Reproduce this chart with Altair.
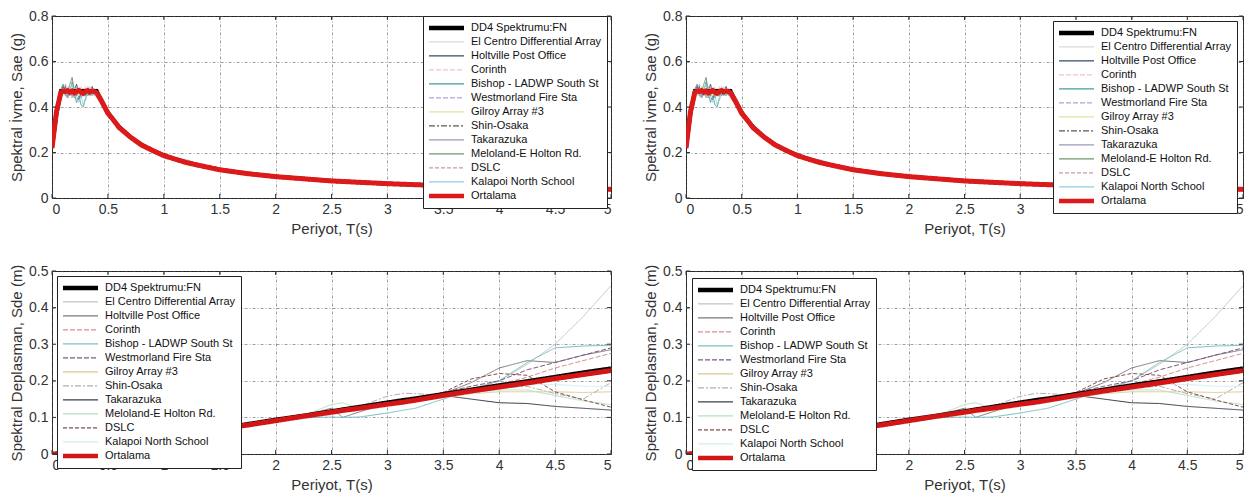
import altair as alt
import pandas as pd

SERIES = ["DD4 Spektrumu:FN", "El Centro Differential Array", "Holtville Post Office",
          "Corinth", "Bishop - LADWP South St", "Westmorland Fire Sta", "Gilroy Array #3",
          "Shin-Osaka", "Takarazuka", "Meloland-E Holton Rd.", "DSLC",
          "Kalapoi North School", "Ortalama"]

X_TICKS = [0, 0.5, 1, 1.5, 2, 2.5, 3, 3.5, 4, 4.5, 5]
SA_TICKS = [0, 0.2, 0.4, 0.6, 0.8]
SD_TICKS = [0, 0.1, 0.2, 0.3, 0.4, 0.5]

# ---------------- spectral acceleration (top row) ----------------
T_SA = [0, 0.04, 0.08, 0.1, 0.12, 0.14, 0.16, 0.18, 0.2, 0.22,
        0.24, 0.26, 0.28, 0.3, 0.32, 0.34, 0.36, 0.38, 0.4, 0.45,
        0.5, 0.55, 0.6, 0.7, 0.8, 0.9, 1.0, 1.1, 1.2, 1.3,
        1.5, 1.75, 2.0, 2.5, 3.0, 3.5, 4.0, 4.5, 5.0]

SA_DD4 = [0.22, 0.37, 0.47, 0.47, 0.47, 0.47, 0.47, 0.47, 0.47, 0.47,
          0.47, 0.47, 0.47, 0.47, 0.47, 0.47, 0.47, 0.47, 0.47, 0.418,
          0.376, 0.342, 0.313, 0.269, 0.235, 0.209, 0.188, 0.171, 0.157, 0.145,
          0.125, 0.107, 0.094, 0.075, 0.063, 0.054, 0.047, 0.042, 0.038]
SA_ELCENTRO = [0.22, 0.37, 0.46, 0.48, 0.45, 0.47, 0.49, 0.46, 0.44, 0.48,
               0.47, 0.45, 0.47, 0.49, 0.46, 0.47, 0.45, 0.48, 0.46, 0.41,
               0.38, 0.35, 0.31, 0.27, 0.24, 0.21, 0.19, 0.17, 0.16, 0.145,
               0.125, 0.107, 0.095, 0.075, 0.063, 0.054, 0.047, 0.042, 0.038]
SA_HOLTVILLE = [0.22, 0.38, 0.47, 0.46, 0.49, 0.45, 0.47, 0.44, 0.47, 0.50,
                0.46, 0.44, 0.46, 0.48, 0.45, 0.47, 0.49, 0.46, 0.47, 0.43,
                0.37, 0.34, 0.32, 0.26, 0.235, 0.205, 0.19, 0.172, 0.155, 0.146,
                0.124, 0.106, 0.093, 0.076, 0.064, 0.053, 0.047, 0.042, 0.038]
SA_CORINTH = [0.22, 0.36, 0.47, 0.47, 0.46, 0.48, 0.45, 0.47, 0.49, 0.46,
              0.44, 0.48, 0.47, 0.45, 0.47, 0.48, 0.46, 0.45, 0.47, 0.42,
              0.375, 0.35, 0.305, 0.275, 0.23, 0.212, 0.185, 0.17, 0.16, 0.143,
              0.126, 0.11, 0.094, 0.074, 0.062, 0.055, 0.048, 0.041, 0.038]
SA_BISHOP = [0.22, 0.37, 0.48, 0.50, 0.46, 0.44, 0.47, 0.51, 0.46, 0.42,
             0.45, 0.41, 0.40, 0.44, 0.47, 0.45, 0.48, 0.47, 0.45, 0.41,
             0.36, 0.33, 0.32, 0.26, 0.24, 0.20, 0.19, 0.165, 0.155, 0.148,
             0.122, 0.108, 0.094, 0.076, 0.063, 0.054, 0.047, 0.042, 0.038]
SA_WESTMORLAND = [0.22, 0.38, 0.46, 0.47, 0.50, 0.48, 0.45, 0.47, 0.46, 0.49,
                  0.47, 0.44, 0.46, 0.47, 0.49, 0.46, 0.47, 0.45, 0.47, 0.42,
                  0.38, 0.34, 0.31, 0.27, 0.235, 0.21, 0.188, 0.17, 0.158, 0.145,
                  0.125, 0.107, 0.094, 0.075, 0.063, 0.054, 0.047, 0.042, 0.038]
SA_GILROY = [0.22, 0.37, 0.47, 0.45, 0.47, 0.49, 0.46, 0.44, 0.48, 0.47,
             0.45, 0.49, 0.46, 0.44, 0.46, 0.49, 0.47, 0.46, 0.44, 0.41,
             0.37, 0.345, 0.30, 0.27, 0.23, 0.215, 0.185, 0.175, 0.16, 0.144,
             0.125, 0.112, 0.095, 0.073, 0.064, 0.054, 0.047, 0.042, 0.038]
SA_SHINOSAKA = [0.22, 0.37, 0.47, 0.49, 0.47, 0.45, 0.46, 0.48, 0.47, 0.45,
                0.43, 0.46, 0.48, 0.47, 0.45, 0.47, 0.46, 0.48, 0.47, 0.43,
                0.38, 0.34, 0.315, 0.265, 0.238, 0.205, 0.19, 0.168, 0.157, 0.145,
                0.125, 0.107, 0.094, 0.075, 0.063, 0.054, 0.047, 0.042, 0.038]
SA_TAKARAZUKA = [0.22, 0.37, 0.46, 0.47, 0.45, 0.44, 0.46, 0.45, 0.44, 0.47,
                 0.48, 0.46, 0.45, 0.47, 0.46, 0.48, 0.47, 0.46, 0.48, 0.44,
                 0.39, 0.35, 0.31, 0.275, 0.24, 0.21, 0.19, 0.17, 0.155, 0.142,
                 0.127, 0.107, 0.096, 0.077, 0.065, 0.056, 0.048, 0.042, 0.038]
SA_MELOLAND = [0.22, 0.38, 0.47, 0.48, 0.46, 0.47, 0.50, 0.53, 0.47, 0.45,
               0.47, 0.46, 0.48, 0.45, 0.47, 0.46, 0.45, 0.47, 0.46, 0.42,
               0.37, 0.35, 0.32, 0.265, 0.232, 0.21, 0.19, 0.172, 0.158, 0.144,
               0.124, 0.107, 0.094, 0.075, 0.063, 0.054, 0.047, 0.042, 0.038]
SA_DSLC = [0.22, 0.37, 0.47, 0.46, 0.48, 0.46, 0.47, 0.45, 0.48, 0.47,
           0.46, 0.48, 0.45, 0.47, 0.48, 0.46, 0.47, 0.46, 0.47, 0.42,
           0.375, 0.34, 0.31, 0.27, 0.235, 0.21, 0.188, 0.171, 0.157, 0.146,
           0.125, 0.107, 0.094, 0.075, 0.063, 0.054, 0.047, 0.042, 0.038]
SA_KALAPOI = [0.22, 0.37, 0.47, 0.48, 0.46, 0.45, 0.48, 0.50, 0.46, 0.44,
              0.42, 0.45, 0.41, 0.43, 0.46, 0.48, 0.45, 0.47, 0.46, 0.41,
              0.37, 0.33, 0.30, 0.26, 0.225, 0.20, 0.18, 0.17, 0.17, 0.15,
              0.122, 0.11, 0.092, 0.076, 0.062, 0.054, 0.047, 0.042, 0.038]
SA_ORTALAMA = [0.22, 0.38, 0.465, 0.47, 0.468, 0.472, 0.465, 0.47, 0.462, 0.468,
               0.473, 0.465, 0.46, 0.468, 0.472, 0.466, 0.47, 0.468, 0.462, 0.42,
               0.372, 0.343, 0.31, 0.268, 0.233, 0.209, 0.186, 0.171, 0.156, 0.145,
               0.124, 0.107, 0.094, 0.075, 0.063, 0.054, 0.047, 0.042, 0.038]

SA_ALL = [SA_DD4, SA_ELCENTRO, SA_HOLTVILLE, SA_CORINTH, SA_BISHOP, SA_WESTMORLAND,
          SA_GILROY, SA_SHINOSAKA, SA_TAKARAZUKA, SA_MELOLAND, SA_DSLC, SA_KALAPOI,
          SA_ORTALAMA]

# ---------------- spectral displacement (bottom row) ----------------
T_SD = [0, 0.1, 0.2, 0.3, 0.4, 0.5, 0.75, 1.0, 1.25, 1.5,
        1.75, 2.0, 2.25, 2.5, 2.6, 2.75, 3.0, 3.15, 3.25, 3.5,
        3.75, 4.0, 4.25, 4.5, 4.75, 5.0]

SD_DD4 = [0, 0.0012, 0.0047, 0.0105, 0.0187, 0.0234, 0.035, 0.047, 0.058, 0.070,
          0.082, 0.094, 0.105, 0.117, 0.122, 0.129, 0.141, 0.148, 0.152, 0.164,
          0.176, 0.188, 0.199, 0.211, 0.223, 0.234]
SD_ELCENTRO = [0, 0.0011, 0.0049, 0.011, 0.018, 0.023, 0.034, 0.047, 0.057, 0.069,
               0.081, 0.093, 0.104, 0.115, 0.12, 0.127, 0.138, 0.145, 0.15, 0.162,
               0.178, 0.20, 0.245, 0.30, 0.375, 0.46]
SD_HOLTVILLE = [0, 0.0012, 0.0048, 0.0104, 0.0186, 0.024, 0.036, 0.046, 0.059, 0.07,
                0.08, 0.092, 0.106, 0.125, 0.10, 0.115, 0.138, 0.146, 0.152, 0.165,
                0.195, 0.235, 0.255, 0.25, 0.27, 0.285]
SD_CORINTH = [0, 0.0013, 0.0046, 0.0106, 0.0183, 0.023, 0.035, 0.048, 0.058, 0.071,
              0.082, 0.093, 0.103, 0.116, 0.121, 0.128, 0.14, 0.148, 0.152, 0.162,
              0.178, 0.19, 0.21, 0.235, 0.255, 0.275]
SD_BISHOP = [0, 0.0012, 0.0047, 0.0103, 0.0188, 0.022, 0.034, 0.045, 0.057, 0.068,
             0.079, 0.09, 0.099, 0.101, 0.10, 0.101, 0.112, 0.12, 0.125, 0.15,
             0.175, 0.20, 0.25, 0.29, 0.295, 0.297]
SD_WESTMORLAND = [0, 0.0011, 0.0047, 0.0105, 0.0187, 0.024, 0.035, 0.047, 0.059, 0.07,
                  0.081, 0.094, 0.105, 0.117, 0.122, 0.128, 0.138, 0.145, 0.15, 0.168,
                  0.185, 0.20, 0.23, 0.25, 0.27, 0.29]
SD_GILROY = [0, 0.0012, 0.0049, 0.0104, 0.0185, 0.023, 0.036, 0.046, 0.058, 0.069,
             0.08, 0.092, 0.104, 0.116, 0.12, 0.126, 0.137, 0.143, 0.148, 0.155,
             0.165, 0.17, 0.17, 0.17, 0.168, 0.17]
SD_SHINOSAKA = [0, 0.0012, 0.0046, 0.0106, 0.0186, 0.024, 0.035, 0.047, 0.058, 0.07,
                0.081, 0.092, 0.104, 0.116, 0.121, 0.13, 0.158, 0.166, 0.165, 0.16,
                0.18, 0.18, 0.185, 0.165, 0.15, 0.195]
SD_TAKARAZUKA = [0, 0.0012, 0.0047, 0.0105, 0.0186, 0.023, 0.035, 0.047, 0.058, 0.07,
                 0.081, 0.093, 0.105, 0.118, 0.124, 0.131, 0.142, 0.148, 0.153, 0.16,
                 0.15, 0.14, 0.138, 0.13, 0.125, 0.12]
SD_MELOLAND = [0, 0.0012, 0.0048, 0.0105, 0.0185, 0.023, 0.035, 0.047, 0.058, 0.07,
               0.08, 0.092, 0.105, 0.135, 0.14, 0.125, 0.135, 0.142, 0.15, 0.162,
               0.17, 0.175, 0.175, 0.16, 0.145, 0.135]
SD_DSLC = [0, 0.0012, 0.0047, 0.0104, 0.0186, 0.023, 0.035, 0.047, 0.058, 0.07,
           0.081, 0.093, 0.104, 0.116, 0.121, 0.128, 0.139, 0.146, 0.151, 0.168,
           0.205, 0.22, 0.215, 0.17, 0.148, 0.128]
SD_KALAPOI = [0, 0.0012, 0.0047, 0.0105, 0.0186, 0.023, 0.035, 0.046, 0.057, 0.069,
              0.08, 0.091, 0.103, 0.115, 0.12, 0.126, 0.136, 0.142, 0.147, 0.155,
              0.165, 0.175, 0.19, 0.19, 0.185, 0.185]
SD_ORTALAMA = [0, 0.0012, 0.0047, 0.0105, 0.0185, 0.023, 0.035, 0.046, 0.058, 0.069,
               0.079, 0.091, 0.103, 0.114, 0.119, 0.125, 0.136, 0.142, 0.147, 0.160,
               0.172, 0.183, 0.194, 0.206, 0.217, 0.228]

SD_ALL = [SD_DD4, SD_ELCENTRO, SD_HOLTVILLE, SD_CORINTH, SD_BISHOP, SD_WESTMORLAND,
          SD_GILROY, SD_SHINOSAKA, SD_TAKARAZUKA, SD_MELOLAND, SD_DSLC, SD_KALAPOI,
          SD_ORTALAMA]

# ---------------- styles ----------------
COLORS_SA = ["#000000", "#d8d8e4", "#3a4a6e", "#f0c4c4", "#4a9a9a", "#b8a0d8",
             "#e4e4a0", "#5a5a5a", "#9a9ab8", "#6a9a6a", "#d09a9a", "#8cd0e0", "#dd1a1a"]
COLORS_SD = ["#000000", "#c4c4c4", "#7a7a7a", "#d89090", "#7cc0c8", "#7a5a82",
             "#dcc88c", "#b0b0b0", "#3c3c4c", "#b8e0c0", "#8a4c4c", "#cfeef2", "#d41515"]
DASHES = [[1, 0], [1, 0], [1, 0], [5, 2], [1, 0], [5, 2], [1, 0],
          [6, 2, 2, 2], [1, 0], [1, 0], [4, 2], [1, 0], [1, 0]]
# legend sample glyphs: a thick band for the two heavy curves, a hairline otherwise
THICK = "M-1,-0.09H1M-1,-0.06H1M-1,-0.03H1M-1,0H1M-1,0.03H1M-1,0.06H1M-1,0.09H1"
THIN = "M-1,0H1"
SHAPES = [THICK] + [THIN] * 11 + [THICK]
W_DD4 = 4
W_ORT = 5
W_REC = 1

FONT = "Liberation Sans"


def panel(t, values, colors, ytitle, ymax, yticks, lx, ly, w, h):
    rows = []
    for name, vals in zip(SERIES, values):
        for tt, v in zip(t, vals):
            rows.append({"T": tt, "v": v, "series": name})
    df = pd.DataFrame(rows)

    leg = alt.Legend(orient="none", legendX=lx, legendY=ly, title=None,
                     symbolSize=1225, symbolStrokeWidth=1.2, symbolOpacity=1,
                     clipHeight=13.9,
                     rowPadding=0, padding=5, fillColor="white", strokeColor="#222",
                     labelFont=FONT, labelFontSize=11, labelColor="#111",
                     labelOffset=6, labelLimit=220)
    x = alt.X("T:Q", scale=alt.Scale(domain=[0, 5], nice=False),
              axis=alt.Axis(values=X_TICKS, title="Periyot, T(s)", format="~g",
                            titlePadding=5))
    y = alt.Y("v:Q", scale=alt.Scale(domain=[0, ymax], nice=False),
              axis=alt.Axis(values=yticks, title=ytitle, format="~g", titlePadding=4))
    color = alt.Color("series:N", scale=alt.Scale(domain=SERIES, range=colors), legend=leg)
    dash = alt.StrokeDash("series:N", scale=alt.Scale(domain=SERIES, range=DASHES), legend=leg)
    shape = alt.Shape("series:N", scale=alt.Scale(domain=SERIES, range=SHAPES), legend=leg)

    base = alt.Chart(df)
    rec = base.transform_filter(
        alt.FieldOneOfPredicate(field="series", oneOf=SERIES[1:12])
    ).mark_line(clip=True).encode(x=x, y=y, color=color, strokeDash=dash,
                                  strokeWidth=alt.value(W_REC))
    dd4 = base.transform_filter(alt.datum.series == SERIES[0]).mark_line(clip=True).encode(
        x=x, y=y, color=color, strokeDash=dash, strokeWidth=alt.value(W_DD4))
    ort = base.transform_filter(alt.datum.series == SERIES[12]).mark_line(clip=True).encode(
        x=x, y=y, color=color, strokeDash=dash, strokeWidth=alt.value(W_ORT))
    # carries the legend glyph shapes only; draws nothing in the plot
    keys = base.transform_filter("false").mark_point(opacity=1).encode(
        x=x, y=y, color=color, shape=shape)

    xt = alt.Chart(pd.DataFrame({"T": X_TICKS}))
    yt = alt.Chart(pd.DataFrame({"v": yticks}))
    tick_col = "#333"
    t_top = xt.mark_rule(color=tick_col).encode(x=x, y=alt.value(0), y2=alt.value(4))
    t_bot = xt.mark_rule(color=tick_col).encode(x=x, y=alt.value(h), y2=alt.value(h - 4))
    t_left = yt.mark_rule(color=tick_col).encode(y=y, x=alt.value(0), x2=alt.value(4))
    t_right = yt.mark_rule(color=tick_col).encode(y=y, x=alt.value(w), x2=alt.value(w - 4))

    return alt.layer(rec, dd4, ort, keys, t_top, t_bot, t_left, t_right).properties(
        width=w, height=h)


p1 = panel(T_SA, SA_ALL, COLORS_SA, "Spektral İvme, Sae (g)", 0.8, SA_TICKS, 371, 0, 559, 182)
p2 = panel(T_SA, SA_ALL, COLORS_SA, "Spektral İvme, Sae (g)", 0.8, SA_TICKS, 367, 5, 557, 182)
p3 = panel(T_SD, SD_ALL, COLORS_SD, "Spektral Deplasman, Sde (m)", 0.5, SD_TICKS, 5, 5, 559, 183)
p4 = panel(T_SD, SD_ALL, COLORS_SD, "Spektral Deplasman, Sde (m)", 0.5, SD_TICKS, 6, 7, 557, 183)

IND = dict(color="independent", strokeDash="independent", shape="independent")

chart = alt.concat(p1, p2, p3, p4, columns=2, bounds="flush",
                   spacing={"row": 73, "column": 75}).resolve_scale(**IND).resolve_legend(**IND)

chart = chart.properties(
    padding={"left": 1, "top": 0, "right": 0, "bottom": 0}, background="white"
).configure_view(stroke="#222", strokeWidth=1).configure_axis(
    grid=True, gridColor="#555", gridOpacity=0.7, gridDash=[3, 2, 1, 2], gridWidth=0.8,
    domain=False, ticks=False,
    labelFont=FONT, labelFontSize=14, labelColor="#333", labelPadding=4,
    titleFont=FONT, titleFontSize=15, titleFontWeight="normal", titleColor="#333",
)

chart.save("out.html", embed_options={"renderer": "svg", "actions": False})
